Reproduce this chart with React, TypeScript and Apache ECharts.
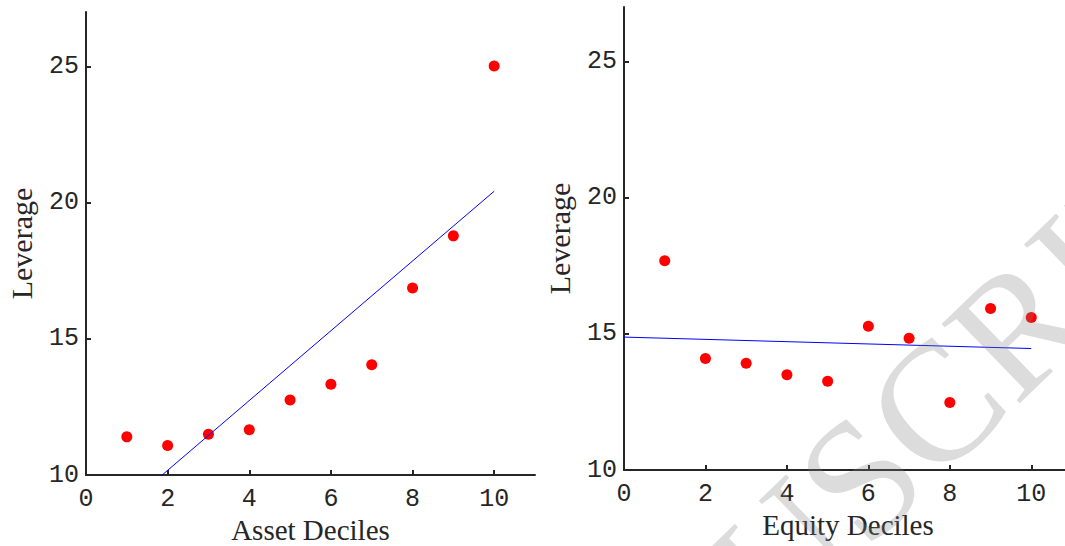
import React, { useEffect, useRef } from "react";
import * as echarts from "echarts";

const deciles = [1, 2, 3, 4, 5, 6, 7, 8, 9, 10];
const assetLeverage = [11.4, 11.08, 11.5, 11.66, 12.75, 13.33, 14.05, 16.87, 18.78, 25.02];
const equityLeverage = [17.68, 14.09, 13.92, 13.5, 13.26, 15.28, 14.84, 12.48, 15.93, 15.6];
const assetFitX = [0, 10];
const assetFitY = [7.61, 20.42];
const equityFitX = [0, 10];
const equityFitY = [14.88, 14.46];
const xTicks = [0, 2, 4, 6, 8, 10];
const yTicks = [10, 15, 20, 25];
const xTitles = ["Asset Deciles", "Equity Deciles"];
const yTitle = "Leverage";
const watermark = "MANUSCRIPT";

const AXIS_COLOR = "#262626";

function pairs(xs: number[], ys: number[]) {
  return xs.map((x, i) => [x, ys[i]]);
}

export default function App() {
  const ref = useRef<HTMLDivElement>(null);
  useEffect(() => {
    if (!ref.current) return;
    const chart = echarts.init(ref.current, null, { renderer: "svg" });
    const xAxis = (i: number) => ({
      type: "value",
      gridIndex: i,
      min: 0,
      max: 11,
      name: xTitles[i],
      nameLocation: "middle",
      nameGap: 40,
      nameMoveOverlap: false,
      nameTextStyle: { fontFamily: "Liberation Serif", fontSize: 29, lineHeight: 29, color: AXIS_COLOR },
      axisLine: { show: true, onZero: false, lineStyle: { color: AXIS_COLOR, width: 2 } },
      axisTick: { show: true, inside: true, length: 5, customValues: xTicks, lineStyle: { color: AXIS_COLOR, width: 2 } },
      axisLabel: { customValues: xTicks, fontFamily: "Liberation Mono", fontSize: 25, lineHeight: 25, color: AXIS_COLOR, margin: 12 },
      splitLine: { show: false },
    });
    const yAxis = (i: number) => ({
      type: "value",
      gridIndex: i,
      min: 10,
      max: 27,
      name: yTitle,
      nameLocation: "middle",
      nameGap: 50,
      nameMoveOverlap: false,
      nameTextStyle: { fontFamily: "Liberation Serif", fontSize: 30, color: AXIS_COLOR },
      axisLine: { show: true, onZero: false, lineStyle: { color: AXIS_COLOR, width: 2 } },
      axisTick: { show: true, inside: true, length: 5, customValues: yTicks, lineStyle: { color: AXIS_COLOR, width: 2 } },
      axisLabel: { customValues: yTicks, fontFamily: "Liberation Mono", fontSize: 25, color: AXIS_COLOR, margin: 7 },
      splitLine: { show: false },
    });
    chart.setOption({
      animation: false,
      backgroundColor: "#ffffff",
      grid: [
        { left: 86, top: 12, width: 449, height: 463, outerBoundsMode: "none", containLabel: false },
        { left: 624, top: 7, width: 448, height: 463, outerBoundsMode: "none", containLabel: false },
      ],
      xAxis: [xAxis(0), xAxis(1)],
      yAxis: [yAxis(0), yAxis(1)],
      series: [
        {
          type: "line",
          xAxisIndex: 0,
          yAxisIndex: 0,
          data: pairs(assetFitX, assetFitY),
          showSymbol: false,
          clip: true,
          lineStyle: { color: "#0000ff", width: 1 },
        },
        {
          type: "scatter",
          xAxisIndex: 0,
          yAxisIndex: 0,
          data: pairs(deciles, assetLeverage),
          symbolSize: 11,
          itemStyle: { color: "#ff0000", opacity: 1 },
        },
        {
          type: "line",
          xAxisIndex: 1,
          yAxisIndex: 1,
          data: pairs(equityFitX, equityFitY),
          showSymbol: false,
          clip: true,
          lineStyle: { color: "#0000ff", width: 1 },
        },
        {
          type: "scatter",
          xAxisIndex: 1,
          yAxisIndex: 1,
          data: pairs(deciles, equityLeverage),
          symbolSize: 11,
          itemStyle: { color: "#ff0000", opacity: 1 },
        },
      ],
      graphic: [
        {
          type: "text",
          x: 453,
          y: 872,
          rotation: (44 * Math.PI) / 180,
          z: 100,
          silent: true,
          style: {
            text: watermark,
            fontFamily: "Liberation Serif",
            fontSize: 170,
            fill: "rgba(128,128,128,0.28)",
            align: "left",
            verticalAlign: "middle",
          },
        },
      ],
    });
    return () => chart.dispose();
  }, []);
  return (
    <div
      ref={ref}
      style={{ position: "fixed", left: 0, top: 0, width: 1065, height: 546, background: "#fff" }}
    />
  );
}
